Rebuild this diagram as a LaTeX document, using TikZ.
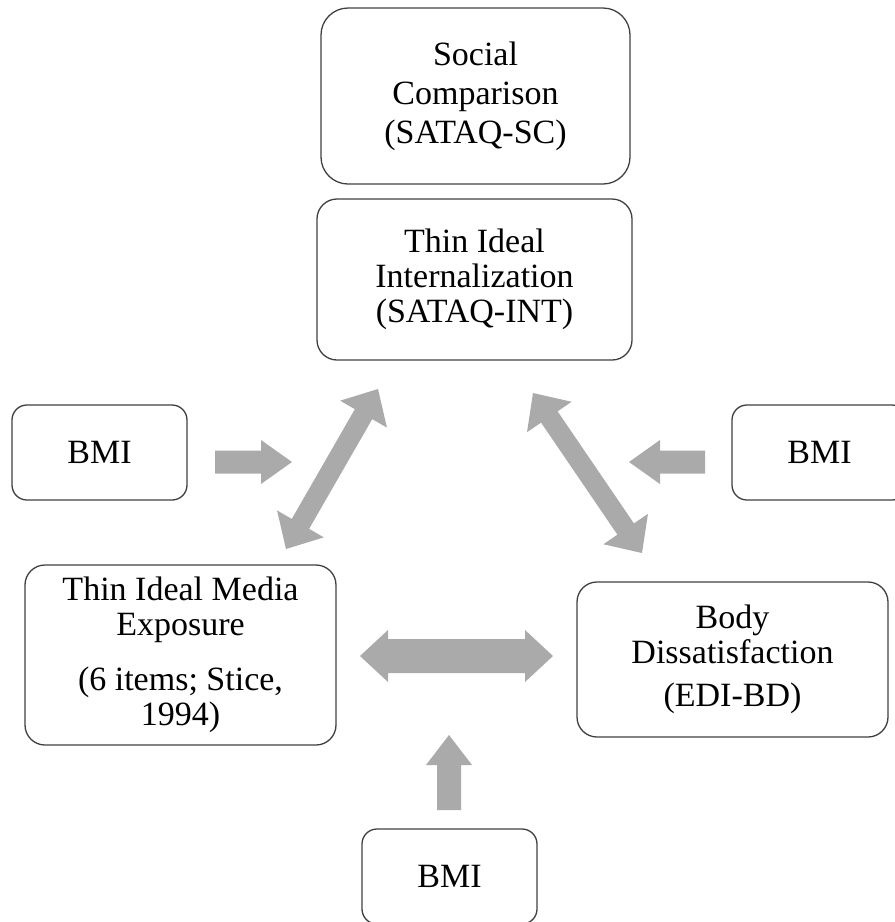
\documentclass[tikz,border=0pt]{standalone}
\usepackage{fontspec}
\setmainfont{Liberation Serif}
\usetikzlibrary{calc}
\definecolor{arrowgray}{HTML}{AAAAAA}
\definecolor{boxline}{HTML}{404040}
% double block arrow: #1 tip A, #2 tip B, #3 shaft half width, #4 head half width, #5 head length
\newcommand{\dblblock}[5]{%
  \coordinate (tmpA) at ($(#1)!#5!(#2)$);
  \coordinate (tmpB) at ($(#2)!#5!(#1)$);
  \fill[arrowgray] (#1) -- ($(tmpA)!#4!90:(#2)$) -- ($(tmpA)!#3!90:(#2)$)
    -- ($(tmpB)!#3!-90:(#1)$) -- ($(tmpB)!#4!-90:(#1)$) -- (#2)
    -- ($(tmpB)!#4!90:(#1)$) -- ($(tmpB)!#3!90:(#1)$)
    -- ($(tmpA)!#3!-90:(#2)$) -- ($(tmpA)!#4!-90:(#2)$) -- cycle;}
% single block arrow: #1 tail, #2 tip
\newcommand{\sglblock}[5]{%
  \coordinate (tmpB) at ($(#2)!#5!(#1)$);
  \fill[arrowgray] ($(#1)!#3!90:(#2)$)
    -- ($(tmpB)!#3!-90:(#1)$) -- ($(tmpB)!#4!-90:(#1)$) -- (#2)
    -- ($(tmpB)!#4!90:(#1)$) -- ($(tmpB)!#3!90:(#1)$)
    -- ($(#1)!#3!-90:(#2)$) -- cycle;}
\begin{document}
\begin{tikzpicture}[x=1pt,y=-1pt,
  box/.style={draw=boxline, line width=1.3pt, rounded corners=#1, align=center,
    inner sep=0pt, font=\fontsize{34}{35}\selectfont},
  box/.default=20pt]
\useasboundingbox (0,0) rectangle (895,922);
\clip (0,0) rectangle (895,922);
% boxes
\node[box=27pt, minimum width=309pt, minimum height=176pt,
  font=\fontsize{34}{39}\selectfont] (sc) at (475.5,96)
  {Social\\Comparison\\(SATAQ-SC)};
\node[box, minimum width=315pt, minimum height=161pt] (tii) at (474.5,279.5)
  {Thin Ideal\\Internalization\\(SATAQ-INT)};
\node[box=15pt, minimum width=175pt, minimum height=95pt] (bmil) at (99.5,452.5) {BMI};
\node[box=15pt, minimum width=175pt, minimum height=95pt] (bmir) at (819.5,452.5) {BMI};
\node[box, minimum width=311pt, minimum height=180pt] (media) at (180.5,655)
  {Thin Ideal Media\\Exposure\\[20pt](6 items; Stice,\\1994)};
\node[box, minimum width=311pt, minimum height=155pt] (body) at (732.5,659.5)
  {Body\\Dissatisfaction\\[8pt](EDI-BD)};
\node[box=15pt, minimum width=175pt, minimum height=95pt] (bmib) at (449.5,876.5) {BMI};
% arrow end points
\coordinate (lbA) at (215,462);  \coordinate (lbB) at (292,462);
\coordinate (rbA) at (705,462);  \coordinate (rbB) at (629,462);
\coordinate (ldA) at (378,389);  \coordinate (ldB) at (286,549);
\coordinate (rdA) at (533,393);  \coordinate (rdB) at (642,553);
\coordinate (hA) at (360,656);   \coordinate (hB) at (553,656);
\coordinate (uA) at (449,810);   \coordinate (uB) at (449,735);
% arrows
\sglblock{lbA}{lbB}{11.5pt}{22pt}{31pt}
\sglblock{rbA}{rbB}{11.5pt}{22pt}{31pt}
\dblblock{ldA}{ldB}{10pt}{27pt}{29pt}
\dblblock{rdA}{rdB}{10pt}{27pt}{29pt}
\dblblock{hA}{hB}{17pt}{26pt}{28pt}
\sglblock{uA}{uB}{12pt}{23pt}{30pt}
\end{tikzpicture}
\end{document}
